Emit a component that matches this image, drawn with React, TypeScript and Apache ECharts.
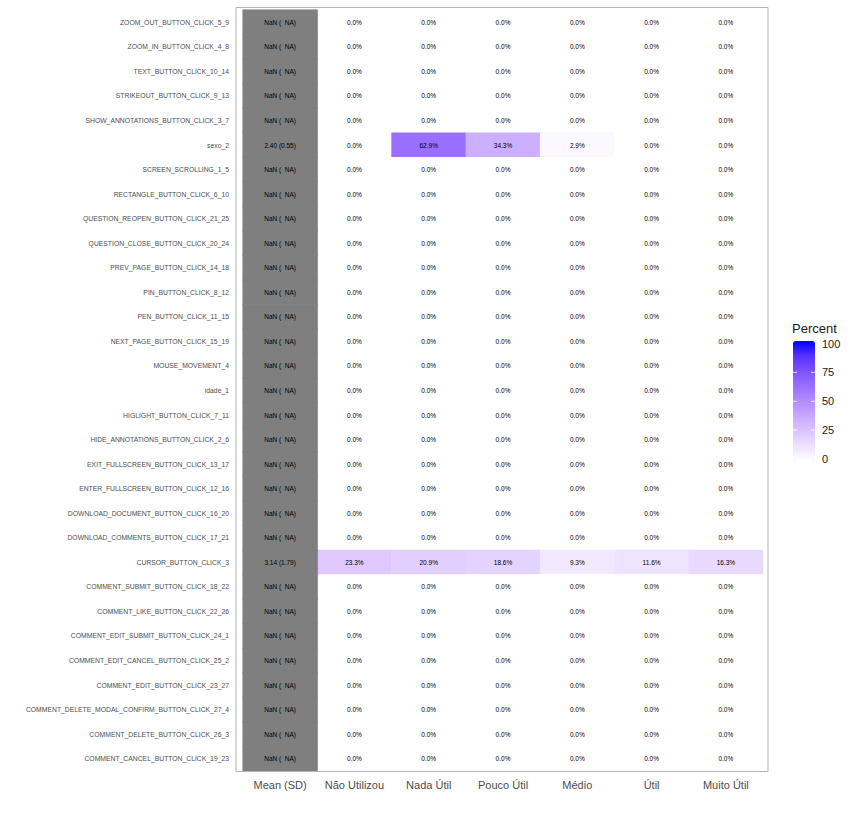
import React, { useEffect, useRef } from "react";
import * as echarts from "echarts";

const rowLabels = [
  "ZOOM_OUT_BUTTON_CLICK_5_9",
  "ZOOM_IN_BUTTON_CLICK_4_8",
  "TEXT_BUTTON_CLICK_10_14",
  "STRIKEOUT_BUTTON_CLICK_9_13",
  "SHOW_ANNOTATIONS_BUTTON_CLICK_3_7",
  "sexo_2",
  "SCREEN_SCROLLING_1_5",
  "RECTANGLE_BUTTON_CLICK_6_10",
  "QUESTION_REOPEN_BUTTON_CLICK_21_25",
  "QUESTION_CLOSE_BUTTON_CLICK_20_24",
  "PREV_PAGE_BUTTON_CLICK_14_18",
  "PIN_BUTTON_CLICK_8_12",
  "PEN_BUTTON_CLICK_11_15",
  "NEXT_PAGE_BUTTON_CLICK_15_19",
  "MOUSE_MOVEMENT_4",
  "idade_1",
  "HIGLIGHT_BUTTON_CLICK_7_11",
  "HIDE_ANNOTATIONS_BUTTON_CLICK_2_6",
  "EXIT_FULLSCREEN_BUTTON_CLICK_13_17",
  "ENTER_FULLSCREEN_BUTTON_CLICK_12_16",
  "DOWNLOAD_DOCUMENT_BUTTON_CLICK_16_20",
  "DOWNLOAD_COMMENTS_BUTTON_CLICK_17_21",
  "CURSOR_BUTTON_CLICK_3",
  "COMMENT_SUBMIT_BUTTON_CLICK_18_22",
  "COMMENT_LIKE_BUTTON_CLICK_22_26",
  "COMMENT_EDIT_SUBMIT_BUTTON_CLICK_24_1",
  "COMMENT_EDIT_CANCEL_BUTTON_CLICK_25_2",
  "COMMENT_EDIT_BUTTON_CLICK_23_27",
  "COMMENT_DELETE_MODAL_CONFIRM_BUTTON_CLICK_27_4",
  "COMMENT_DELETE_BUTTON_CLICK_26_3",
  "COMMENT_CANCEL_BUTTON_CLICK_19_23",
];

const colLabels = ["Mean (SD)", "Não Utilizou", "Nada Útil", "Pouco Útil", "Médio", "Útil", "Muito Útil"];

const NA = "NaN (  NA)";
const meanSd = [
  NA, NA, NA, NA, NA,
  "2.40 (0.55)",
  NA, NA, NA, NA, NA,
  NA, NA, NA, NA, NA,
  NA, NA, NA, NA, NA,
  NA,
  "3.14 (1.79)",
  NA, NA, NA, NA, NA,
  NA, NA, NA,
];

// Percent per row (Não Utilizou, Nada Útil, Pouco Útil, Médio, Útil, Muito Útil)
const percentRows: number[][] = [
  [0, 0, 0, 0, 0, 0],
  [0, 0, 0, 0, 0, 0],
  [0, 0, 0, 0, 0, 0],
  [0, 0, 0, 0, 0, 0],
  [0, 0, 0, 0, 0, 0],
  [0, 62.9, 34.3, 2.9, 0, 0],
  [0, 0, 0, 0, 0, 0],
  [0, 0, 0, 0, 0, 0],
  [0, 0, 0, 0, 0, 0],
  [0, 0, 0, 0, 0, 0],
  [0, 0, 0, 0, 0, 0],
  [0, 0, 0, 0, 0, 0],
  [0, 0, 0, 0, 0, 0],
  [0, 0, 0, 0, 0, 0],
  [0, 0, 0, 0, 0, 0],
  [0, 0, 0, 0, 0, 0],
  [0, 0, 0, 0, 0, 0],
  [0, 0, 0, 0, 0, 0],
  [0, 0, 0, 0, 0, 0],
  [0, 0, 0, 0, 0, 0],
  [0, 0, 0, 0, 0, 0],
  [0, 0, 0, 0, 0, 0],
  [23.3, 20.9, 18.6, 9.3, 11.6, 16.3],
  [0, 0, 0, 0, 0, 0],
  [0, 0, 0, 0, 0, 0],
  [0, 0, 0, 0, 0, 0],
  [0, 0, 0, 0, 0, 0],
  [0, 0, 0, 0, 0, 0],
  [0, 0, 0, 0, 0, 0],
  [0, 0, 0, 0, 0, 0],
  [0, 0, 0, 0, 0, 0],
];

const legendTicks = [0, 25, 50, 75, 100];

// white -> blue interpolated in Lab space (like ggplot2)
const gradientColors = [
  "#FFFFFF", "#EEE2FF", "#DCC4FF", "#C8A8FF", "#B38BFF",
  "#9B6FFF", "#7E51FF", "#5932FF", "#0000FF",
];

export default function App() {
  const ref = useRef<HTMLDivElement>(null);

  useEffect(() => {
    if (!ref.current) return;
    const chart = echarts.init(ref.current, null, { renderer: "svg" });

    const W = 858;
    const gridLeft = 243;
    const gridRight = 763;
    const gridTop = 10;
    const gridBottom = 771;

    const pctData: any[] = [];
    percentRows.forEach((row, r) => {
      row.forEach((v, c) => {
        pctData.push([c + 1, r, v]);
      });
    });
    const meanData = meanSd.map((s, r) => ({ value: [0, r, 0], label: { formatter: s } }));

    const barTop = 341;
    const barH = 120;
    const barX = 793;
    const barW = 22;
    const tickYFor = (v: number) => 459 - (v / 100) * (459 - 343.5);

    const font = "'Liberation Sans', Arial, Helvetica, sans-serif";

    const graphics: any[] = [
      {
        type: "rect",
        shape: { x: 236, y: 7.5, width: 532, height: 764 },
        style: { fill: "none", stroke: "#B3B3B3", lineWidth: 1 },
        silent: true,
        z: 10,
      },
      {
        type: "text",
        left: 792,
        top: 322,
        style: { text: "Percent", font: `13px ${font}`, fill: "#1A1A1A" },
      },
    ];
    legendTicks.forEach((t) => {
      const y = tickYFor(t);
      graphics.push({
        type: "text",
        x: 822,
        y,
        style: {
          text: String(t),
          font: `11px ${font}`,
          fill: "#1A1A1A",
          verticalAlign: "middle",
          textAlign: "left",
        },
        z: 20,
      });
      if (t > 0 && t < 100) {
        graphics.push({
          type: "line",
          shape: { x1: barX, y1: y, x2: barX + 4, y2: y },
          style: { stroke: "#FFFFFF", lineWidth: 0.8 },
          z: 20,
        });
        graphics.push({
          type: "line",
          shape: { x1: barX + barW - 4, y1: y, x2: barX + barW, y2: y },
          style: { stroke: "#FFFFFF", lineWidth: 0.8 },
          z: 20,
        });
      }
    });

    chart.setOption({
      animation: false,
      backgroundColor: "#FFFFFF",
      textStyle: { fontFamily: font },
      grid: {
        left: gridLeft,
        right: W - gridRight,
        top: gridTop,
        height: gridBottom - gridTop,
        containLabel: false,
      },
      xAxis: {
        type: "category",
        data: colLabels,
        axisLine: { show: false },
        axisTick: { show: false },
        splitLine: { show: false },
        axisLabel: { fontSize: 11, color: "#4D4D4D", margin: 8, interval: 0, fontFamily: font },
      },
      yAxis: {
        type: "category",
        data: rowLabels,
        inverse: true,
        axisLine: { show: false },
        axisTick: { show: false },
        splitLine: { show: false },
        axisLabel: { fontSize: 6.8, color: "#4D4D4D", margin: 14, interval: 0, fontFamily: font },
      },
      visualMap: [
        {
          type: "continuous",
          min: 0,
          max: 100,
          seriesIndex: 0,
          calculable: false,
          orient: "vertical",
          left: barX,
          top: barTop,
          itemWidth: barW,
          itemHeight: barH,
          padding: 0,
          text: null,
          inRange: { color: gradientColors },
          hoverLink: false,
        },
        {
          type: "continuous",
          show: false,
          min: 0,
          max: 1,
          seriesIndex: 1,
          inRange: { color: ["#7F7F7F", "#7F7F7F"] },
        },
      ],
      series: [
        {
          type: "heatmap",
          data: pctData,
          label: {
            show: true,
            fontSize: 6.5,
            color: "#000000",
            fontFamily: font,
            formatter: (p: any) => `${(p.value[2] as number).toFixed(1)}%`,
          },
          itemStyle: { borderWidth: 0 },
          emphasis: { disabled: true },
        },
        {
          type: "heatmap",
          data: meanData,
          label: { show: true, fontSize: 6.5, color: "#000000", fontFamily: font },
          itemStyle: { borderWidth: 0.6, borderColor: "#7F7F7F" },
          emphasis: { disabled: true },
        },
      ],
      graphic: graphics,
    });

    return () => chart.dispose();
  }, []);

  return (
    <div
      ref={ref}
      style={{ position: "absolute", left: 0, top: 0, width: 858, height: 818 }}
    />
  );
}
